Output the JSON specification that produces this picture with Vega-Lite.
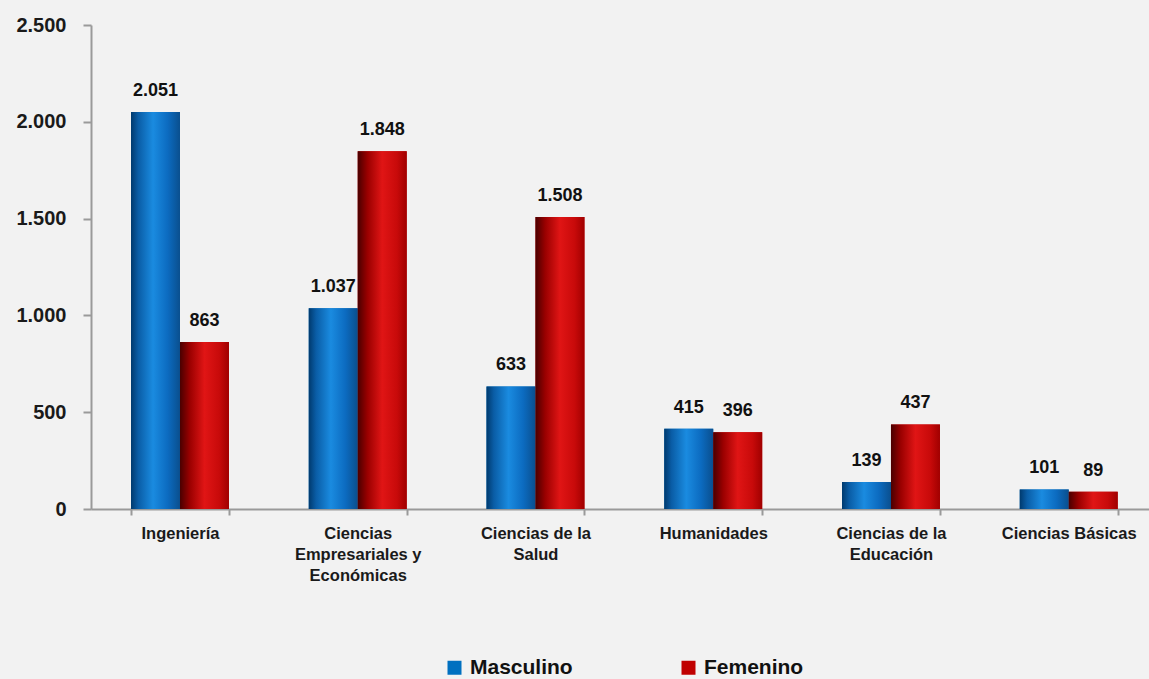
{
  "$schema": "https://vega.github.io/schema/vega-lite/v6.json",
  "width": 1058,
  "height": 484,
  "autosize": "none",
  "padding": {"left": 91, "top": 25, "right": 0, "bottom": 170},
  "background": "#F2F2F2",
  "config": {
    "view": {"stroke": null},
    "font": "Liberation Sans",
    "locale": {"number": {"decimal": ",", "thousands": ".", "grouping": [3], "currency": ["", ""]}}
  },
  "data": {
    "values": [
      {"area": "Ingeniería", "sexo": "Masculino", "valor": 2051},
      {"area": "Ingeniería", "sexo": "Femenino", "valor": 863},
      {"area": "Ciencias Empresariales y Económicas", "sexo": "Masculino", "valor": 1037},
      {"area": "Ciencias Empresariales y Económicas", "sexo": "Femenino", "valor": 1848},
      {"area": "Ciencias de la Salud", "sexo": "Masculino", "valor": 633},
      {"area": "Ciencias de la Salud", "sexo": "Femenino", "valor": 1508},
      {"area": "Humanidades", "sexo": "Masculino", "valor": 415},
      {"area": "Humanidades", "sexo": "Femenino", "valor": 396},
      {"area": "Ciencias de la Educación", "sexo": "Masculino", "valor": 139},
      {"area": "Ciencias de la Educación", "sexo": "Femenino", "valor": 437},
      {"area": "Ciencias Básicas", "sexo": "Masculino", "valor": 101},
      {"area": "Ciencias Básicas", "sexo": "Femenino", "valor": 89}
    ]
  },
  "encoding": {
    "x": {
      "field": "area", "type": "nominal", "sort": null,
      "scale": {"paddingInner": 0.449, "paddingOuter": 0.2006, "align": 0.561},
      "axis": {
        "title": null, "labelAngle": 0, "domainColor": "#9A9A9A", "domainWidth": 2,
        "tickColor": "#9A9A9A", "tickWidth": 2, "tickSize": 6, "tickBand": "extent",
        "labelFont": "Liberation Sans", "labelFontSize": 16.5, "labelFontWeight": "bold",
        "labelColor": "#1A1A1A", "labelPadding": 10, "labelLineHeight": 21, "labelBaseline": "top",
        "labelExpr": "datum.label == 'Ciencias Empresariales y Económicas' ? ['Ciencias', 'Empresariales y', 'Económicas'] : datum.label == 'Ciencias de la Salud' ? ['Ciencias de la', 'Salud'] : datum.label == 'Ciencias de la Educación' ? ['Ciencias de la', 'Educación'] : datum.label"
      }
    },
    "xOffset": {"field": "sexo", "type": "nominal", "sort": ["Masculino", "Femenino"], "scale": {"paddingInner": 0}},
    "y": {
      "field": "valor", "type": "quantitative",
      "scale": {"domain": [0, 2500]},
      "axis": {
        "title": null, "values": [0, 500, 1000, 1500, 2000, 2500], "format": ",d", "grid": false,
        "domainColor": "#9A9A9A", "domainWidth": 2, "tickColor": "#9A9A9A", "tickWidth": 2, "tickSize": 8,
        "labelFont": "Liberation Sans", "labelFontSize": 20, "labelFontWeight": "bold",
        "labelColor": "#1A1A1A", "labelPadding": 17
      }
    }
  },
  "layer": [
    {
      "mark": {"type": "bar"},
      "encoding": {
        "color": {
          "field": "sexo", "type": "nominal", "sort": ["Masculino", "Femenino"],
          "scale": {"domain": ["Masculino", "Femenino"], "range": ["#0070C0", "#C00000"]},
          "legend": {
            "title": null, "orient": "none", "direction": "horizontal", "legendX": 353, "legendY": 632,
            "symbolType": "square", "symbolSize": 196, "symbolStrokeWidth": 0, "symbolOpacity": 1,
            "labelFont": "Liberation Sans", "labelFontSize": 21, "labelFontWeight": "bold",
            "labelColor": "#111111", "columnPadding": 105, "labelOffset": 5, "symbolOffset": 0
          }
        }
      }
    },
    {
      "transform": [{"filter": "datum.sexo == 'Masculino'"}],
      "mark": {
        "type": "bar",
        "fill": {"gradient": "linear", "x1": 0, "y1": 0, "x2": 1, "y2": 0,
          "stops": [{"offset": 0, "color": "#003A6E"}, {"offset": 0.15, "color": "#0A5DA6"}, {"offset": 0.45, "color": "#1A8BE0"}, {"offset": 0.75, "color": "#0C6BC0"}, {"offset": 1, "color": "#0A4F8E"}]}
      }
    },
    {
      "transform": [{"filter": "datum.sexo == 'Femenino'"}],
      "mark": {
        "type": "bar",
        "fill": {"gradient": "linear", "x1": 0, "y1": 0, "x2": 1, "y2": 0,
          "stops": [{"offset": 0, "color": "#4A0000"}, {"offset": 0.2, "color": "#9A0000"}, {"offset": 0.5, "color": "#E01515"}, {"offset": 0.8, "color": "#C80A0A"}, {"offset": 1, "color": "#A00000"}]}
      }
    },
    {
      "mark": {"type": "text", "baseline": "bottom", "dy": -12, "fontSize": 18, "fontWeight": "bold", "font": "Liberation Sans", "color": "#111111"},
      "encoding": {"text": {"field": "valor", "type": "quantitative", "format": ",d"}}
    }
  ]
}
